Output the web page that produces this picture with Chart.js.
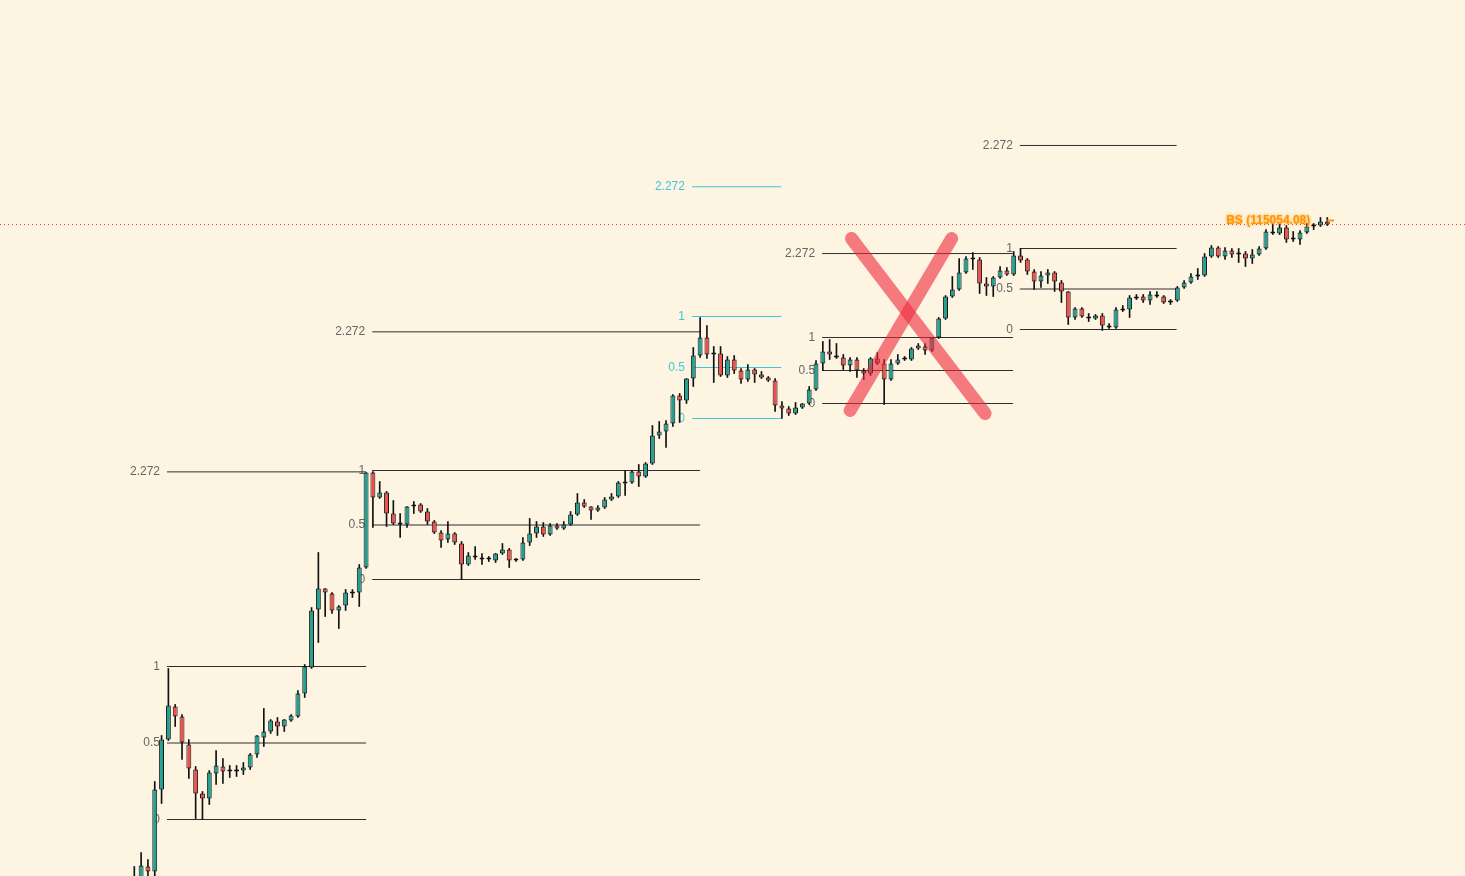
<!DOCTYPE html>
<html lang="es">
<head>
<meta charset="utf-8">
<title>Velas con niveles Fibonacci</title>
<script src="https://cdn.jsdelivr.net/npm/chart.js@4.4.1/dist/chart.umd.min.js"></script>
<style>
  html, body { margin: 0; padding: 0; background: #fdf5e2; overflow: hidden; }
  #contenedor { width: 1465px; height: 876px; position: relative; }
</style>
</head>
<body>
<div id="contenedor"><canvas id="graficoVelas"></canvas></div>
<script>
// OHLC (una vela por indice)
const aperturas = [
  -20, -5, 10, 5, 87, 137, 170, 160, 132, 107,
  83, 78, 103, 110, 105, 105, 106, 109, 122, 139,
  145, 155, 150, 156, 160, 183, 209, 267, 288, 283,
  266, 271, 283, 284, 309, 404, 379, 384, 363, 352,
  352, 370, 372, 365, 355, 344, 337, 343, 333, 312,
  321, 319, 317, 316, 323, 327, 316, 317, 334, 343,
  350, 342, 351, 348, 352, 362, 374, 370, 366, 369,
  377, 380, 393, 394, 405, 400, 413, 441, 445, 453,
  481, 476, 498, 521, 539, 522, 523, 501, 517, 506,
  497, 507, 502, 499, 496, 471, 468, 463, 469, 473,
  487, 513, 525, 521, 519, 511, 517, 506, 503, 518,
  513, 497, 513, 517, 517, 528, 530, 526, 539, 558,
  580, 587, 604, 617, 617, 593, 590, 599, 606, 602,
  621, 617, 605, 595, 601, 604, 594, 585, 559, 568,
  558, 558, 561, 551, 549, 566, 567, 578, 580, 576,
  582, 580, 574, 576, 589, 594, 600, 601, 620, 629,
  620, 626, 622, 623, 618, 622, 628, 645, 643, 649,
  637, 637, 644, 650, 651, 655
];
const cierres = [
  -5, 11, 5, 87, 137, 171, 160, 134, 108, 83,
  78, 104, 111, 105, 107, 107, 109, 122, 141, 145,
  156, 150, 157, 161, 183, 210, 266, 288, 284, 266,
  270, 284, 285, 309, 404, 379, 384, 363, 353, 354,
  370, 372, 365, 355, 344, 336, 343, 334, 312, 321,
  319, 317, 319, 323, 327, 316, 318, 334, 343, 350,
  342, 351, 348, 352, 362, 374, 370, 366, 369, 377,
  380, 394, 395, 405, 400, 413, 441, 445, 453, 481,
  476, 498, 521, 539, 522, 524, 501, 517, 506, 497,
  507, 502, 499, 496, 471, 468, 463, 469, 473, 487,
  513, 525, 522, 519, 511, 517, 506, 503, 518, 513,
  497, 513, 517, 519, 528, 531, 526, 539, 558, 580,
  587, 604, 618, 619, 593, 590, 599, 606, 602, 621,
  616, 605, 595, 601, 604, 595, 585, 559, 568, 560,
  560, 561, 551, 549, 567, 568, 579, 580, 576, 582,
  580, 574, 576, 589, 594, 600, 602, 620, 629, 620,
  626, 622, 624, 618, 622, 628, 645, 643, 649, 637,
  639, 644, 650, 652, 655, 652
];
const maximos = [
  10, 24, 17, 95, 141, 208, 172, 162, 137, 110,
  85, 106, 126, 118, 111, 111, 114, 123, 141, 168,
  157, 159, 157, 162, 186, 212, 269, 324, 288, 284,
  271, 287, 287, 312, 404, 405, 395, 385, 376, 363,
  370, 375, 373, 368, 356, 346, 355, 344, 335, 324,
  330, 323, 320, 323, 333, 328, 318, 339, 358, 355,
  354, 353, 353, 355, 365, 383, 377, 370, 371, 379,
  383, 395, 406, 406, 412, 414, 451, 455, 456, 482,
  483, 498, 529, 559, 551, 530, 530, 520, 521, 508,
  512, 508, 505, 500, 498, 475, 470, 474, 473, 490,
  516, 535, 537, 533, 522, 519, 519, 508, 519, 524,
  517, 517, 522, 520, 529, 533, 533, 539, 559, 581,
  600, 618, 620, 624, 619, 599, 600, 610, 609, 625,
  628, 618, 607, 605, 607, 605, 596, 585, 569, 569,
  563, 562, 563, 553, 569, 571, 581, 582, 582, 585,
  585, 581, 577, 590, 596, 603, 608, 623, 631, 630,
  629, 628, 628, 625, 627, 630, 647, 653, 653, 651,
  645, 646, 653, 653, 659, 659
];
const minimos = [
  -30, -10, -2, -2, 73, 136, 150, 117, 98, 58,
  57, 72, 92, 93, 99, 100, 102, 107, 119, 130,
  143, 141, 145, 155, 159, 179, 208, 234, 260, 263,
  248, 266, 279, 270, 308, 349, 378, 350, 352, 339,
  349, 363, 364, 352, 343, 329, 334, 332, 297, 311,
  317, 312, 315, 314, 322, 309, 315, 316, 331, 339,
  340, 341, 347, 347, 351, 361, 369, 357, 365, 368,
  376, 379, 381, 393, 390, 399, 412, 438, 429, 450,
  454, 473, 490, 519, 518, 494, 500, 499, 503, 493,
  495, 494, 498, 495, 465, 458, 461, 462, 468, 472,
  486, 506, 517, 518, 507, 505, 499, 497, 501, 512,
  472, 496, 512, 516, 516, 527, 522, 525, 538, 557,
  579, 586, 603, 607, 583, 581, 580, 598, 601, 601,
  614, 602, 587, 589, 593, 585, 574, 552, 557, 559,
  555, 557, 546, 548, 548, 565, 559, 577, 574, 572,
  579, 573, 572, 575, 588, 593, 597, 600, 619, 619,
  617, 619, 614, 610, 613, 621, 627, 642, 642, 634,
  635, 632, 643, 647, 650, 651
];

// herramientas Fibonacci: vela inicial/final, precio del 0 y del 1
const fibInicio = [4.8, 34.9, 81.8, 100.9, 129.9];
const fibFin = [34.0, 83.0, 94.9, 128.9, 152.9];
const fibCero = [57, 297, 458, 473, 547];
const fibUno = [210, 406, 560, 539, 628];
const fibNiveles = [0, 0.5, 1, 2.272];
const fibColores = ["#2e2e2e", "#2e2e2e", "#3cc8dc", "#2e2e2e", "#2e2e2e"];
const fibColoresTexto = ["#666", "#666", "#3cc8dc", "#666", "#666"];

// linea de precio actual y su etiqueta
const precioActual = 652;
const etiquetaActual = "BS (115054.08)";

// la cruz dibujada encima (vela, precio)
const trazoCruz1 = [[105.2, 638], [124.8, 463]];
const trazoCruz2 = [[119.9, 638], [105.0, 466]];

const VERDE = "#22a091";
const ROJO = "#ef504b";
const X_MIN = -19.70, X_MAX = 195.2;

function nivelFib(f, r) { return fibCero[f] + r * (fibUno[f] - fibCero[f]); }

const etiquetasFib = {
  id: "etiquetasFib",
  beforeDatasetsDraw(chart) {
    const { ctx, scales: { x, y } } = chart;
    ctx.save();
    ctx.font = '12px "Liberation Sans", Arial, sans-serif';
    ctx.textAlign = "right";
    ctx.textBaseline = "middle";
    for (let f = 0; f < fibInicio.length; f++) {
      ctx.fillStyle = fibColoresTexto[f];
      const px = x.getPixelForValue(fibInicio[f]) - 7;
      fibNiveles.forEach(r => ctx.fillText(String(r), px, y.getPixelForValue(nivelFib(f, r))));
    }
    ctx.restore();
  }
};

const etiquetaPrecio = {
  id: "etiquetaPrecio",
  afterDatasetsDraw(chart) {
    const { ctx, scales: { x, y } } = chart;
    ctx.save();
    ctx.font = 'bold 12px "Liberation Sans", Arial, sans-serif';
    ctx.textAlign = "right";
    ctx.textBaseline = "middle";
    ctx.fillStyle = "#ff9500";
    ctx.shadowColor = "rgba(255,149,0,0.9)";
    ctx.shadowBlur = 3;
    ctx.fillText(etiquetaActual, x.getPixelForValue(172.5), y.getPixelForValue(precioActual + 4));
    ctx.restore();
  }
};

document.addEventListener("DOMContentLoaded", () => {
  const velas = aperturas.map((o, i) => ({ x: i, y: [Math.min(o, cierres[i]), Math.max(o, cierres[i])] }));
  const mechas = maximos.map((h, i) => ({ x: i, y: [minimos[i], h] }));
  const colores = aperturas.map((o, i) => cierres[i] >= o ? VERDE : ROJO);

  let datasets = [
    { type: "bar", data: velas, backgroundColor: colores, borderColor: "#111", borderWidth: 1,
      borderSkipped: false, barPercentage: 0.72, categoryPercentage: 1, grouped: false, order: 1 },
    { type: "bar", data: mechas, backgroundColor: "#111", borderWidth: 0, barThickness: 1,
      grouped: false, order: 2 }
  ];

  for (let f = 0; f < fibInicio.length; f++) {
    fibNiveles.forEach(r => {
      const nivel = nivelFib(f, r);
      datasets.push({ type: "line", data: [{ x: fibInicio[f], y: nivel }, { x: fibFin[f], y: nivel }],
        borderColor: fibColores[f], borderWidth: 1, pointRadius: 0, order: 5 });
    });
  }

  datasets.push({ type: "line", data: [{ x: X_MIN, y: precioActual }, { x: X_MAX, y: precioActual }],
    borderColor: "#f03c3c", borderWidth: 1, borderDash: [1, 3], pointRadius: 0, order: 4 });
  datasets.push({ type: "line", data: [{ x: 175.0, y: precioActual + 4 }, { x: 176.0, y: precioActual + 4 }],
    borderColor: "#ff9800", borderWidth: 2, pointRadius: 0, order: 0 });

  [trazoCruz1, trazoCruz2].forEach(t => {
    datasets.push({ type: "line", data: t.map(p => ({ x: p[0], y: p[1] })),
      borderColor: "rgba(240,40,60,0.6)", borderWidth: 13, borderCapStyle: "round", pointRadius: 0, order: 0 });
  });

  const ctx = document.getElementById("graficoVelas").getContext("2d");
  new Chart(ctx, {
    type: "bar",
    data: { datasets },
    options: {
      responsive: true, maintainAspectRatio: false, animation: false,
      layout: { padding: 0 },
      plugins: { legend: { display: false }, tooltip: { enabled: false } },
      scales: {
        x: { type: "linear", min: X_MIN, max: X_MAX, display: false, offset: false },
        y: { type: "linear", min: 0.5, max: 876.5, display: false }
      }
    },
    plugins: [etiquetasFib, etiquetaPrecio]
  });
});
</script>
</body>
</html>
